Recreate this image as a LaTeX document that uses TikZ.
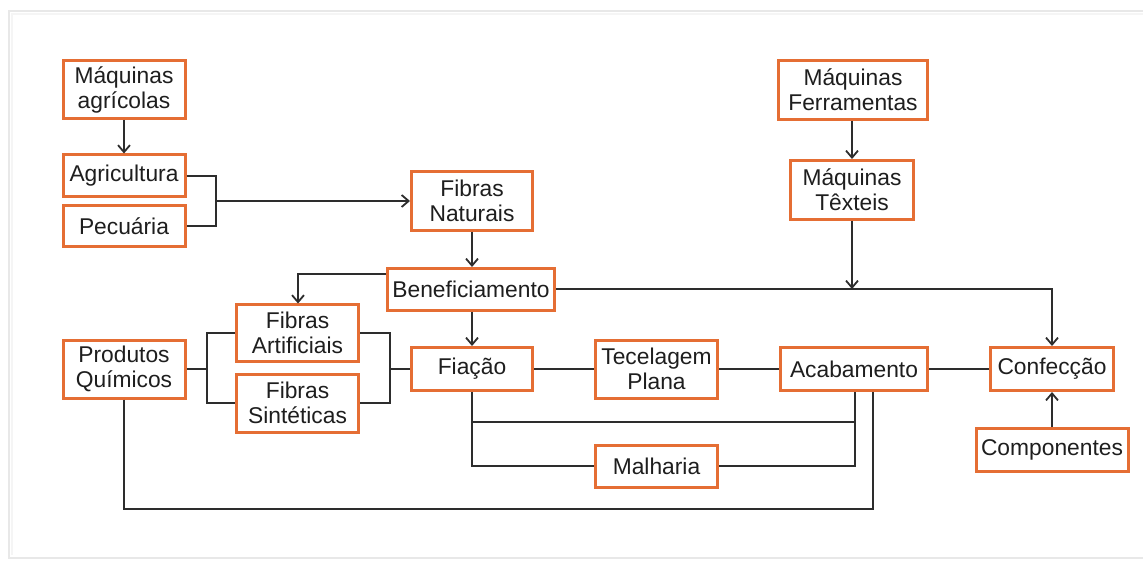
\documentclass[tikz,border=0pt]{standalone}
\usepackage{fontspec}
\setmainfont{Liberation Sans}
\usetikzlibrary{arrows.meta,calc}
\definecolor{boxorange}{RGB}{229,110,52}
\definecolor{linegray}{RGB}{45,45,45}
\definecolor{txtgray}{RGB}{30,30,30}
\begin{document}
\begin{tikzpicture}[x=1pt,y=-1pt,
  box/.style={draw=boxorange,line width=3pt,fill=white,inner sep=0pt,align=center,
    text=txtgray,font=\fontsize{22.8}{25}\selectfont},
  conn/.style={draw=linegray,line width=2pt},
  arr/.style={conn,-{Straight Barb[length=7pt,width=12pt,line width=1.8pt]}}]
\useasboundingbox (0,0) rectangle (1143,561);
\fill[white] (0,0) rectangle (1143,561);
\draw[gray!18,line width=2.5pt] (1160,11) -- (9,11) -- (9,558) -- (1160,558);
\draw[gray!8,line width=2pt] (1160,14) -- (12,14) -- (12,555);

% nodes
\node[box,minimum width=122pt,minimum height=58pt] (maqagr) at (124,89.5) {Máquinas\\agrícolas};
\node[box,minimum width=122pt,minimum height=42pt] (agri) at (124,176) {Agricultura};
\node[box,minimum width=122pt,minimum height=41pt] (pec) at (124,226) {Pecuária};
\node[box,minimum width=121pt,minimum height=59pt] (fibnat) at (472,201) {Fibras\\Naturais};
\node[box,minimum width=167pt,minimum height=42pt] (benef) at (471,289.5) {Beneficiamento};
\node[box,minimum width=122pt,minimum height=56pt] (fibart) at (297.5,333) {Fibras\\Artificiais};
\node[box,minimum width=122pt,minimum height=58pt] (fibsin) at (297.5,403) {Fibras\\Sintéticas};
\node[box,minimum width=122pt,minimum height=58pt] (prodq) at (124,369) {Produtos\\Químicos};
\node[box,minimum width=121pt,minimum height=43pt] (fiac) at (472,369) {Fiação};
\node[box,minimum width=122pt,minimum height=58pt] (tecel) at (656.5,369) {Tecelagem\\Plana};
\node[box,minimum width=147pt,minimum height=43pt] (acab) at (854,369) {Acabamento};
\node[box,minimum width=123pt,minimum height=43pt] (conf) at (1052,369) {Confecção};
\node[box,minimum width=152pt,minimum height=43pt] (comp) at (1052,450) {Componentes};
\node[box,minimum width=122pt,minimum height=42pt] (malh) at (656.5,466) {Malharia};
\node[box,minimum width=149pt,minimum height=59pt] (maqfer) at (853,90) {Máquinas\\Ferramentas};
\node[box,minimum width=123pt,minimum height=59pt] (maqtex) at (852,190) {Máquinas\\Têxteis};

% helper coordinates
\coordinate (brA) at (216,201);
\coordinate (brL) at (207,369);
\coordinate (brR) at (390,369);
\coordinate (benL) at (298,274);
\coordinate (topR) at (1052,289);
\coordinate (mtJ) at (852,289);
\coordinate (fj1) at (472,422);
\coordinate (aj1) at (855,422);
\coordinate (bot) at (873,509);

% connectors
\draw[arr] (maqagr.south) -- (agri.north);
\draw[conn] (agri.east) -| (brA |- pec.east) -- (pec.east);
\draw[arr] (brA) -- (fibnat.west |- brA);
\draw[arr] (fibnat.south) -- (fibnat.south |- benef.north);
\draw[arr] (benef.west |- benL) -- (benL) -- (benL |- fibart.north);
\draw[arr] (benef.south -| fiac.north) -- (fiac.north);
\draw[arr] (benef.east |- topR) -- (topR) -- (conf.north);
\draw[arr] (maqfer.south -| maqtex.north) -- (maqtex.north);
\draw[arr] (maqtex.south) -- (mtJ);
\draw[conn] (prodq.east) -- (brL);
\draw[conn] (fibart.west) -| (brL |- fibsin.west) -- (fibsin.west);
\draw[conn] (fibart.east) -| (brR |- fibsin.west) -- (fibsin.east);
\draw[conn] (brR) -- (fiac.west);
\draw[conn] (fiac.east) -- (tecel.west);
\draw[conn] (tecel.east) -- (acab.west);
\draw[conn] (acab.east) -- (conf.west);
\draw[arr] (comp.north) -- (conf.south);
\draw[conn] (fiac.south) |- (malh.west);
\draw[conn] (fj1) -- (aj1);
\draw[conn] (malh.east) -| (aj1) -- (aj1 |- acab.south);
\draw[conn] (prodq.south) |- (bot) -- (bot |- acab.south);
\end{tikzpicture}
\end{document}
